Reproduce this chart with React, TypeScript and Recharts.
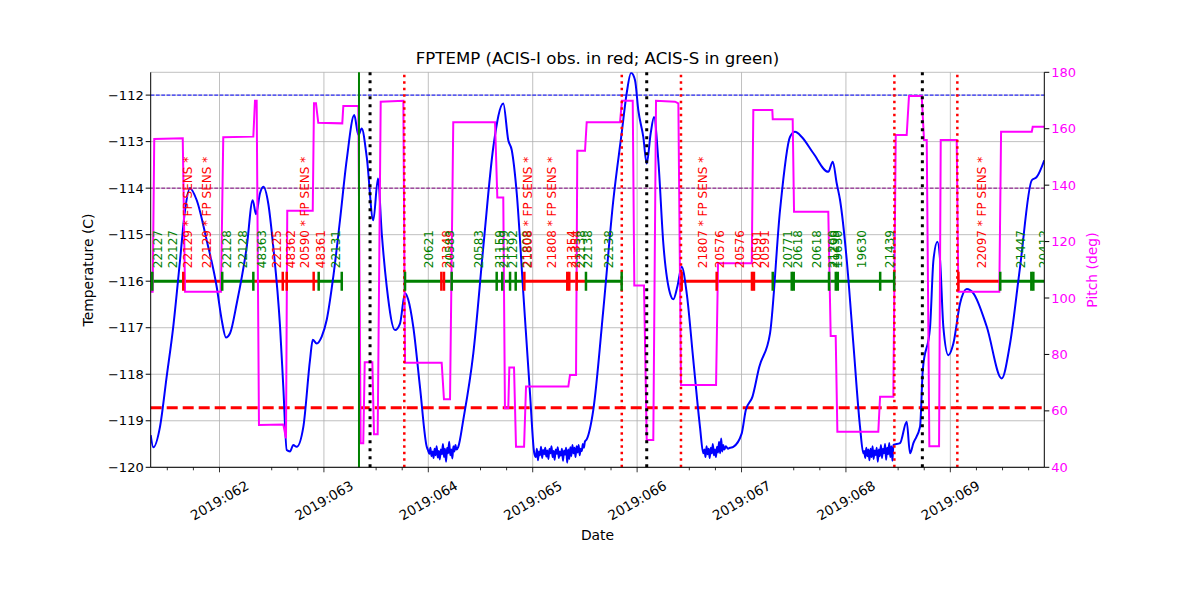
import React from 'react'
import { ComposedChart, Line, Scatter, XAxis, YAxis, CartesianGrid, ReferenceLine } from 'recharts'

const FONT = '"DejaVu Sans", sans-serif'
const RED = '#ff0000'
const GREEN = '#008000'
const MAGENTA = '#ff00ff'

// FPTEMP model, [day of 2019, deg C]
const tempPoints: [number, number][] = [
  [61.341, -119.31], [61.366, -119.57], [61.43, -119.13], [61.494, -118.05], [61.557, -116.98],
  [61.622, -115.55], [61.67, -114.47], [61.717, -114.0], [61.782, -114.26], [61.877, -115.12],
  [61.973, -116.12], [62.021, -116.83], [62.062, -117.21], [62.101, -117.12], [62.165, -116.48],
  [62.261, -115.26], [62.318, -114.26], [62.35, -114.56], [62.388, -114.11], [62.42, -113.97],
  [62.467, -114.33], [62.515, -115.26], [62.58, -116.98], [62.611, -118.27], [62.644, -119.63],
  [62.675, -119.66], [62.707, -119.52], [62.739, -119.56], [62.803, -119.13], [62.867, -117.69],
  [62.893, -117.26], [62.931, -117.34], [62.979, -117.19], [63.027, -116.83], [63.09, -115.9],
  [63.154, -114.69], [63.218, -113.4], [63.291, -112.43], [63.33, -112.86], [63.362, -112.72],
  [63.41, -113.33], [63.473, -114.69], [63.518, -113.79], [63.554, -114.97], [63.602, -116.12],
  [63.681, -117.05], [63.729, -116.91], [63.777, -116.26], [63.808, -116.4], [63.856, -116.98],
  [63.92, -118.27], [63.985, -119.56],
  [63.995, -119.62], [64.01, -119.71], [64.02, -119.58], [64.03, -119.76], [64.04, -119.66],
  [64.05, -119.8], [64.06, -119.6], [64.07, -119.74], [64.08, -119.55], [64.09, -119.79],
  [64.1, -119.65], [64.11, -119.83], [64.12, -119.62], [64.13, -119.72], [64.14, -119.5],
  [64.15, -119.78], [64.16, -119.6], [64.17, -119.88], [64.18, -119.58], [64.19, -119.7],
  [64.2, -119.45], [64.21, -119.74], [64.22, -119.62], [64.23, -119.81], [64.24, -119.55],
  [64.25, -119.66], [64.26, -119.52], [64.27, -119.62], [64.287, -119.56],
  [64.335, -118.98], [64.431, -117.55], [64.527, -115.26], [64.623, -113.11], [64.718, -112.18],
  [64.766, -112.97], [64.799, -113.18], [64.847, -114.11], [64.91, -116.26], [64.974, -118.41],
  [65.015, -119.7],
  [65.03, -119.78], [65.04, -119.6], [65.05, -119.85], [65.06, -119.66], [65.07, -119.74],
  [65.08, -119.56], [65.09, -119.8], [65.1, -119.63], [65.11, -119.72], [65.12, -119.58],
  [65.13, -119.77], [65.14, -119.64], [65.15, -119.82], [65.16, -119.6], [65.17, -119.7],
  [65.18, -119.55], [65.19, -119.78], [65.2, -119.65], [65.21, -119.84], [65.22, -119.62],
  [65.23, -119.71], [65.24, -119.57], [65.25, -119.8], [65.26, -119.66], [65.27, -119.75],
  [65.28, -119.6], [65.29, -119.86], [65.3, -119.64], [65.31, -119.73], [65.32, -119.58],
  [65.33, -119.9], [65.34, -119.62], [65.35, -119.82], [65.36, -119.57], [65.37, -119.76],
  [65.38, -119.52], [65.39, -119.7], [65.4, -119.58], [65.41, -119.78], [65.42, -119.55],
  [65.43, -119.68], [65.44, -119.52], [65.45, -119.74], [65.46, -119.6], [65.47, -119.65],
  [65.48, -119.5], [65.49, -119.58], [65.5, -119.45], [65.517, -119.4],
  [65.58, -118.77], [65.676, -116.62], [65.772, -114.26], [65.852, -112.82], [65.9, -111.96],
  [65.942, -111.52], [65.98, -111.68], [66.011, -112.32], [66.059, -112.9], [66.092, -113.47],
  [66.13, -112.82], [66.162, -112.47], [66.203, -113.4], [66.251, -115.19], [66.315, -116.26],
  [66.347, -116.39], [66.385, -116.12], [66.427, -115.69], [66.475, -116.26], [66.538, -117.69],
  [66.602, -119.13], [66.634, -119.7],
  [66.645, -119.62], [66.655, -119.78], [66.665, -119.55], [66.675, -119.72], [66.685, -119.6],
  [66.695, -119.8], [66.705, -119.58], [66.715, -119.7], [66.725, -119.5], [66.735, -119.74],
  [66.745, -119.62], [66.755, -119.78], [66.765, -119.56], [66.775, -119.68], [66.785, -119.45],
  [66.795, -119.7], [66.805, -119.38], [66.815, -119.66], [66.825, -119.52], [66.835, -119.62],
  [66.85, -119.55], [66.87, -119.6], [66.89, -119.58], [66.921, -119.56],
  [67.002, -119.27], [67.041, -118.77], [67.105, -118.48], [67.169, -117.85], [67.273, -117.12],
  [67.369, -114.47], [67.464, -112.9], [67.512, -112.79], [67.577, -112.9], [67.688, -113.25],
  [67.831, -113.65], [67.874, -113.43], [67.912, -113.9], [67.944, -114.26], [68.008, -115.55],
  [68.071, -117.34], [68.135, -119.13], [68.167, -119.7],
  [68.175, -119.65], [68.185, -119.8], [68.195, -119.58], [68.205, -119.76], [68.215, -119.62],
  [68.225, -119.85], [68.235, -119.6], [68.245, -119.78], [68.255, -119.55], [68.265, -119.82],
  [68.275, -119.64], [68.285, -119.74], [68.295, -119.58], [68.305, -119.88], [68.315, -119.62],
  [68.325, -119.76], [68.335, -119.52], [68.345, -119.8], [68.355, -119.6], [68.365, -119.7],
  [68.375, -119.5], [68.385, -119.84], [68.395, -119.58], [68.405, -119.72], [68.415, -119.48],
  [68.425, -119.78], [68.435, -119.55], [68.445, -119.86], [68.455, -119.52],
  [68.518, -119.48], [68.582, -119.02], [68.614, -119.7], [68.646, -119.48], [68.71, -119.13],
  [68.736, -117.91], [68.806, -116.98], [68.838, -115.55], [68.876, -115.15], [68.902, -115.55],
  [68.933, -116.98], [68.981, -117.59], [69.029, -117.34], [69.093, -116.48], [69.157, -116.17],
  [69.221, -116.26], [69.349, -116.98], [69.492, -118.09], [69.572, -117.34], [69.668, -115.69],
  [69.78, -113.83], [69.828, -113.76], [69.9, -113.4],
]

// pitch, [day of 2019, deg]
const pitchPoints: [number, number][] = [
  [61.341, 102.2], [61.36, 102.2], [61.375, 156.4], [61.648, 156.6], [61.67, 102.2],
  [62.014, 102.2], [62.036, 157.0], [62.324, 157.2], [62.34, 169.9], [62.356, 169.9],
  [62.378, 55.0], [62.611, 55.2], [62.637, 50.3], [62.649, 130.9], [62.893, 130.9],
  [62.905, 169.0], [62.924, 169.0], [62.946, 162.1], [63.176, 161.9], [63.186, 168.1],
  [63.33, 168.1], [63.352, 48.5], [63.377, 48.5], [63.391, 77.2], [63.464, 77.2],
  [63.48, 51.7], [63.515, 51.7], [63.544, 169.6], [63.761, 169.9], [63.777, 77.1],
  [64.128, 77.1], [64.15, 64.1], [64.208, 64.1], [64.239, 162.3], [64.639, 162.3],
  [64.661, 135.6], [64.718, 135.6], [64.734, 60.9], [64.766, 60.9], [64.776, 75.4],
  [64.821, 75.4], [64.84, 47.3], [64.917, 47.3], [64.936, 68.6], [65.341, 68.6],
  [65.357, 72.7], [65.415, 72.7], [65.427, 152.2], [65.501, 152.2], [65.517, 162.3],
  [65.836, 162.3], [65.855, 169.9], [65.958, 169.9], [65.973, 104.4], [66.066, 104.4],
  [66.092, 49.7], [66.155, 49.7], [66.181, 169.9], [66.363, 169.6], [66.395, 169.0],
  [66.42, 69.2], [66.756, 69.2], [66.775, 112.3], [67.098, 112.3], [67.113, 166.6],
  [67.295, 166.6], [67.299, 163.4], [67.49, 163.4], [67.503, 130.6], [67.831, 130.6],
  [67.854, 86.5], [67.902, 86.5], [67.918, 52.6], [68.31, 52.6], [68.327, 65.0],
  [68.454, 65.0], [68.477, 157.8], [68.582, 157.8], [68.604, 171.6], [68.726, 171.6],
  [68.748, 156.0], [68.774, 156.0], [68.799, 47.5], [68.892, 47.5], [68.908, 156.0],
  [69.061, 156.0], [69.077, 102.2], [69.469, 102.2], [69.486, 158.9], [69.78, 158.9],
  [69.789, 160.7], [69.9, 160.7],
]

// observation intervals: [start, stop, instrument]
const obsIntervals: [number, number, 'I' | 'S'][] = [
  [61.356, 61.653, 'S'], [61.653, 62.026, 'I'], [62.026, 62.324, 'S'], [62.324, 62.95, 'I'],
  [62.95, 63.171, 'S'], [63.777, 64.125, 'S'], [64.125, 64.15, 'I'], [64.15, 64.92, 'S'],
  [64.92, 65.51, 'I'], [65.51, 65.852, 'S'], [66.427, 67.299, 'I'], [67.299, 68.462, 'S'],
  [69.077, 69.478, 'I'], [69.478, 69.9, 'S'],
]

// boundary marks: [day, instrument]
const obsMarks: [number, 'I' | 'S'][] = [
  [61.356, 'S'], [61.653, 'I'], [62.026, 'S'], [62.324, 'S'], [62.606, 'I'], [62.644, 'I'],
  [62.902, 'I'], [62.95, 'S'], [63.171, 'S'], [63.777, 'S'], [64.125, 'I'], [64.15, 'I'],
  [64.224, 'S'], [64.655, 'S'], [64.708, 'S'], [64.783, 'S'], [64.837, 'S'], [64.92, 'I'],
  [65.331, 'I'], [65.35, 'I'], [65.421, 'I'], [65.51, 'S'], [65.852, 'S'], [66.427, 'I'],
  [66.762, 'I'], [67.1, 'I'], [67.119, 'I'], [67.299, 'S'], [67.481, 'S'], [67.5, 'S'],
  [67.838, 'S'], [67.903, 'S'], [67.922, 'S'], [68.328, 'S'], [68.462, 'S'], [69.077, 'I'],
  [69.478, 'S'], [69.776, 'S'], [69.795, 'S'],
]

const obsLabels: [number, string, 'I' | 'S'][] = [
  [61.411, '22127', 'S'], [61.557, '22127', 'S'], [61.701, '22129 * FP SENS *', 'I'],
  [61.877, '22129 * FP SENS *', 'I'], [62.075, '22128', 'S'], [62.222, '22128', 'S'],
  [62.404, '48363', 'S'], [62.548, '22125', 'I'], [62.682, '48362', 'I'],
  [62.819, '20590 * FP SENS *', 'I'], [62.972, '48361', 'I'], [63.116, '22131', 'S'],
  [64.01, '20621', 'S'], [64.176, '21348', 'I'], [64.208, '20583', 'S'], [64.489, '20583', 'S'],
  [64.687, '21159', 'S'], [64.725, '21159', 'S'], [64.814, '21292', 'S'], [64.95, '21808', 'S'],
  [64.958, '21808 * FP SENS *', 'I'], [65.182, '21808 * FP SENS *', 'I'], [65.374, '21354', 'I'],
  [65.415, '21354', 'I'], [65.46, '22138', 'S'], [65.53, '22138', 'S'], [65.734, '22138', 'S'],
  [66.634, '21807 * FP SENS *', 'I'], [66.794, '20576', 'I'], [66.986, '20576', 'I'],
  [67.151, '20591', 'I'], [67.225, '20591', 'I'], [67.448, '20771', 'S'], [67.544, '20618', 'S'],
  [67.72, '20618', 'S'], [67.879, '21200', 'S'], [67.9, '21199', 'S'], [67.924, '19630', 'S'],
  [68.151, '19630', 'S'], [68.422, '21439', 'S'], [69.301, '22097 * FP SENS *', 'I'],
  [69.674, '21447', 'S'], [69.897, '20412', 'S'],
]

const blackDotted = [63.442, 66.092, 68.732]
const redDotted = [63.77, 65.853, 66.42, 68.464, 69.067]
const greenSolid = [63.336]

const OBS_TEMP = -116
const PLANNING_LIMIT = -118.72
const BLUE_LIMIT = -112
const PURPLE_LIMIT = -114

const majorDays = [62, 63, 64, 65, 66, 67, 68, 69]
const tempTicks = [-120, -119, -118, -117, -116, -115, -114, -113, -112]
const pitchTicks = [40, 60, 80, 100, 120, 140, 160, 180]

const instColor = (k: 'I' | 'S') => (k === 'I' ? RED : GREEN)

const tempData = tempPoints.map(([t, v]) => ({ t, temp: v }))
const pitchData = pitchPoints.map(([t, v]) => ({ t, pitch: v }))
const markData = obsMarks.map(([t, k]) => ({ t, y: OBS_TEMP, color: instColor(k) }))
const labelData = obsLabels.map(([t, text, k]) => ({ t, y: OBS_TEMP, text, color: instColor(k) }))
const dayTicks = majorDays.flatMap((d) => [d - 0.5, d - 0.25, d]).concat([69.25, 69.5, 69.75])

function DateTick(props: any) {
  const { x, y, payload } = props
  const v = payload.value
  const major = Math.abs(v - Math.round(v)) < 1e-6
  const ly = y + 33
  return (
    <g>
      <line x1={x} y1={y} x2={x} y2={y + (major ? 5 : 3)} stroke="#000" strokeWidth={0.8} />
      {major && (
        <text x={x} y={ly} textAnchor="middle" dominantBaseline="central" fontSize={13.5}
          fontFamily={FONT} fill="#000" transform={`rotate(-30 ${x} ${ly})`}>
          {`2019:${String(Math.round(v)).padStart(3, '0')}`}
        </text>
      )}
    </g>
  )
}

function MarkShape(props: any) {
  const { cx, cy, payload } = props
  return <line x1={cx} x2={cx} y1={cy - 9.5} y2={cy + 9.5} stroke={payload.color} strokeWidth={2.5} />
}

function LabelShape(props: any) {
  const { cx, cy, payload } = props
  const y0 = cy - 13
  return (
    <text x={cx} y={y0} transform={`rotate(-90 ${cx} ${y0})`} fontSize={12} fontFamily={FONT}
      fill={payload.color} dominantBaseline="central">
      {payload.text}
    </text>
  )
}

export default function App() {
  return (
    <div style={{ position: 'absolute', left: 0, top: 0, width: 1200, height: 600, background: '#fff', fontFamily: FONT }}>
      <ComposedChart width={1200} height={600} margin={{ top: 72.3, right: 95.7, bottom: 72.7, left: 90.7 }}>
        <CartesianGrid yAxisId="temp" vertical={false} stroke="#b0b0b0" strokeWidth={0.8} />
        <XAxis dataKey="t" type="number" domain={[61.341, 69.9]} allowDataOverflow ticks={dayTicks}
          interval={0} height={60} tickLine={false} tickSize={0} tickMargin={0} tick={<DateTick />}
          axisLine={{ stroke: '#000', strokeWidth: 1 }} />
        <YAxis yAxisId="temp" orientation="left" domain={[-120, -111.51]} allowDataOverflow ticks={tempTicks}
          width={60} tickSize={5} tickLine={{ stroke: '#000' }} axisLine={{ stroke: '#000' }}
          tick={{ fill: '#000', fontSize: 13, fontFamily: FONT }} tickFormatter={(v: number) => `−${Math.abs(v)}`} />
        <YAxis yAxisId="pitch" orientation="right" domain={[40, 180]} allowDataOverflow ticks={pitchTicks}
          width={60} tickSize={5} tickLine={{ stroke: '#000' }} axisLine={{ stroke: '#000' }}
          tick={{ fill: MAGENTA, fontSize: 13, fontFamily: FONT }} />

        {majorDays.map((d) => (
          <ReferenceLine key={`g${d}`} yAxisId="temp" x={d} stroke="#b0b0b0" strokeWidth={0.8} />
        ))}

        {obsIntervals.map(([a, b, k], i) => (
          <Line key={`seg${i}`} yAxisId="temp" data={[{ t: a, y: OBS_TEMP }, { t: b, y: OBS_TEMP }]} dataKey="y"
            stroke={instColor(k)} strokeWidth={3} dot={false} isAnimationActive={false} />
        ))}
        <Scatter yAxisId="temp" data={markData} dataKey="y" shape={<MarkShape />} isAnimationActive={false} />
        <Scatter yAxisId="temp" data={labelData} dataKey="y" shape={<LabelShape />} isAnimationActive={false} />

        <ReferenceLine yAxisId="temp" y={BLUE_LIMIT} stroke="#0000ff" strokeWidth={1} strokeDasharray="3.7 1.6" />
        <ReferenceLine yAxisId="temp" y={PURPLE_LIMIT} stroke="#800080" strokeWidth={1} strokeDasharray="3.7 1.6" />
        <ReferenceLine yAxisId="temp" y={PLANNING_LIMIT} stroke={RED} strokeWidth={3} strokeDasharray="11 5" />

        <Line yAxisId="temp" data={tempData} dataKey="temp" type="monotone" stroke="#0000ff" strokeWidth={2}
          dot={false} isAnimationActive={false} />
        <Line yAxisId="pitch" data={pitchData} dataKey="pitch" type="linear" stroke={MAGENTA} strokeWidth={2}
          dot={false} isAnimationActive={false} />

        {greenSolid.map((d) => (
          <ReferenceLine key={`gs${d}`} yAxisId="temp" x={d} stroke={GREEN} strokeWidth={2} />
        ))}
        {blackDotted.map((d) => (
          <ReferenceLine key={`bd${d}`} yAxisId="temp" x={d} stroke="#000" strokeWidth={3} strokeDasharray="3 5" />
        ))}
        {redDotted.map((d) => (
          <ReferenceLine key={`rd${d}`} yAxisId="temp" x={d} stroke={RED} strokeWidth={2.5} strokeDasharray="2.5 4" />
        ))}
      </ComposedChart>
      <svg width={1200} height={600} style={{ position: 'absolute', left: 0, top: 0, pointerEvents: 'none' }}>
        <text x={597.5} y={58} textAnchor="middle" dominantBaseline="central" fontSize={16.6} fontFamily={FONT} fill="#000">
          FPTEMP (ACIS-I obs. in red; ACIS-S in green)
        </text>
        <text x={597.5} y={535} textAnchor="middle" dominantBaseline="central" fontSize={13.9} fontFamily={FONT} fill="#000">
          Date
        </text>
        <text x={88} y={270} textAnchor="middle" dominantBaseline="central" fontSize={13.9} fontFamily={FONT} fill="#000"
          transform="rotate(-90 88 270)">
          Temperature (C)
        </text>
        <text x={1092} y={270} textAnchor="middle" dominantBaseline="central" fontSize={13.9} fontFamily={FONT} fill={MAGENTA}
          transform="rotate(-90 1092 270)">
          Pitch (deg)
        </text>
      </svg>
    </div>
  )
}
